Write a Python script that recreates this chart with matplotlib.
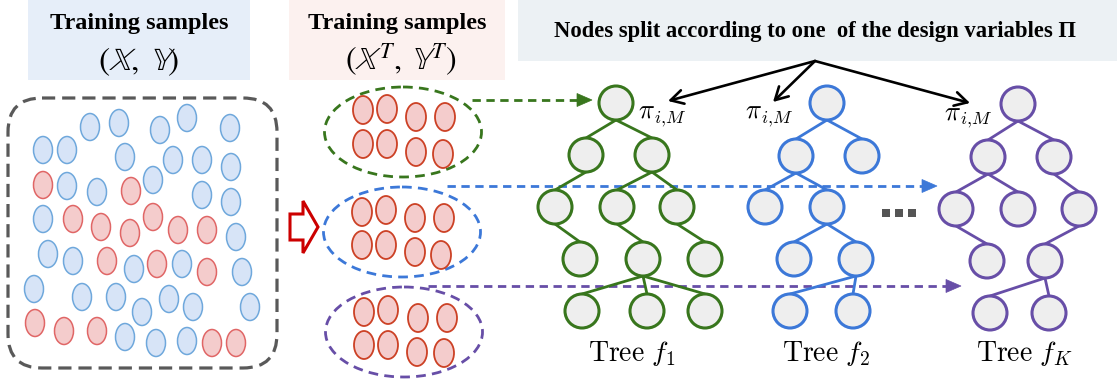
import matplotlib
matplotlib.use('Agg')
import matplotlib.pyplot as plt
from matplotlib.patches import Ellipse, Circle, Rectangle, FancyBboxPatch, Polygon, FancyArrowPatch

plt.rcParams['lines.scale_dashes'] = False

# ---------------- data ----------------
header_left = "Training samples"
header_left_math = r"$(\mathbb{X},\ \mathbb{Y})$"
header_mid = "Training samples"
header_mid_math = r"$\left(\mathbb{X}^{\,T},\ \mathbb{Y}^{\,T}\right)$"
header_right = "Nodes split according to one  of the design variables \u03a0"
split_symbol = r"$\pi$"
split_sub = r"$i{,}M$"
tree_labels = [r"$\mathrm{Tree}\ f_1$", r"$\mathrm{Tree}\ f_2$", r"$\mathrm{Tree}\ f_K$"]

# training samples (x, y, class) ; B = blue, R = red
sample_x = [90, 119, 160, 187, 230,
            43, 67, 125, 173, 202, 231,
            43, 67, 97, 131, 153, 202, 231,
            43, 73, 101, 130, 153, 178, 207, 236,
            48, 73, 107, 134, 157, 182, 207, 242,
            34, 82, 116, 142, 169, 193, 250,
            35, 64, 97, 125, 156, 187, 212, 236]
sample_y = [127, 123, 130, 118, 128,
            150, 150, 157, 160, 160, 167,
            185, 186, 192, 191, 180, 195, 202,
            219, 219, 227, 233, 217, 230, 230, 237,
            254, 261, 261, 269, 264, 264, 272, 272,
            289, 297, 297, 312, 299, 307, 307,
            323, 331, 331, 337, 343, 341, 343, 343]
sample_cls = list("BBBBB" "BBBBBB" "RBBRBBB" "BRRRRRRB" "BBRBRBRB" "BBBBBBB" "RRRBBBRR")

# bootstrap subsets: centers of dashed group ellipses and their members
group_colors = ["#38761d", "#3c78d8", "#674ea7"]
group_centers = [(403, 132), (402, 232), (404, 332)]
group_members_x = [[363, 387, 416, 445, 363, 387, 416, 443],
                   [362, 386, 415, 444, 362, 386, 415, 441],
                   [364, 388, 418, 447, 364, 388, 417, 444]]
group_members_y = [[110, 109, 117, 117, 144, 144, 152, 154],
                   [212, 210, 218, 218, 245, 245, 252, 255],
                   [312, 310, 318, 318, 345, 345, 352, 353]]

# trees: node centers and edges
tree_nodes = [
    [(616, 103), (586, 155), (652, 155), (555, 207), (617, 207), (677, 207),
     (580, 259), (643, 259), (705, 259), (582, 311), (647, 311), (705, 311)],
    [(827, 103), (796, 156), (862, 156), (765, 207), (827, 207),
     (794, 259), (856, 259), (790, 311), (853, 311)],
    [(1018, 104), (988, 157), (1054, 157), (956, 209), (1018, 209), (1079, 209),
     (987, 261), (1045, 261), (990, 313), (1049, 313)],
]
tree_edges = [
    [(0, 1), (0, 2), (1, 3), (2, 4), (2, 5), (3, 6), (4, 7), (5, 8), (7, 9), (7, 10), (7, 11)],
    [(0, 1), (0, 2), (1, 3), (1, 4), (4, 5), (4, 6), (6, 7), (6, 8)],
    [(0, 1), (0, 2), (1, 3), (1, 4), (2, 5), (3, 6), (5, 7), (7, 8), (7, 9)],
]
tree_label_pos = [(632, 361), (826, 361), (1024, 361)]

# dashed connectors (start, tip)
conn_start = [(472, 100), (447, 186), (428, 286)]
conn_tip = [(592, 100), (937, 186), (961, 286)]

# split arrows
split_origin = (815, 61)
split_tips = [(668, 101), (773, 102), (970, 103)]
split_label_pos = [(638, 118), (745, 118), (944, 119)]

# ---------------- figure ----------------
W, H = 1117, 382
fig = plt.figure(figsize=(W / 100, H / 100), dpi=100)
ax = fig.add_axes([0, 0, 1, 1])
ax.set_xlim(0, W)
ax.set_ylim(H, 0)
ax.axis('off')

serif = ['Liberation Serif', 'DejaVu Serif']

# header boxes
ax.add_patch(Rectangle((28, 0), 222, 80, facecolor='#e6eef9', edgecolor='none', zorder=0))
ax.add_patch(Rectangle((289, 0), 216, 80, facecolor='#fcf1ef', edgecolor='none', zorder=0))
ax.add_patch(Rectangle((518, 0), 599, 61, facecolor='#ecf1f4', edgecolor='none', zorder=0))

ax.text(139, 23, header_left, ha='center', va='center', fontsize=17.5,
        fontweight='bold', family=serif)
ax.text(138, 61, header_left_math, ha='center', va='center', fontsize=24,
        math_fontfamily='stix')
ax.text(397, 23, header_mid, ha='center', va='center', fontsize=17.5,
        fontweight='bold', family=serif)
ax.text(401, 60, header_mid_math, ha='center', va='center', fontsize=23,
        math_fontfamily='stix')
ax.text(815, 32, header_right, ha='center', va='center', fontsize=16.3,
        fontweight='bold', family=serif)

# big dashed rounded box
ax.add_patch(FancyBboxPatch((8, 98), 269, 270, boxstyle='round,pad=0,rounding_size=34',
                            facecolor='none', edgecolor='#595959', lw=2.3,
                            linestyle=(0, (9.5, 5)), zorder=1))

# samples
for x, y, c in zip(sample_x, sample_y, sample_cls):
    if c == 'B':
        fc, ec = '#d7e4f7', '#6fa8dc'
    else:
        fc, ec = '#f4cccc', '#e06666'
    ax.add_patch(Ellipse((x, y), 19, 27, facecolor=fc, edgecolor=ec, lw=1.1, zorder=2))

# red hollow arrow
ax.add_patch(Polygon([(290, 214), (303, 214), (303, 201), (318, 227), (303, 253),
                      (303, 240), (290, 240)], closed=True, facecolor='white',
                     edgecolor='#cc0000', lw=2.2, joinstyle='miter', zorder=2))

# groups
for col, (cx, cy), gx, gy in zip(group_colors, group_centers, group_members_x, group_members_y):
    ax.add_patch(Ellipse((cx, cy), 157, 90, facecolor='none', edgecolor=col, lw=2.0,
                         linestyle=(0, (7, 4.5)), zorder=2))
    for x, y in zip(gx, gy):
        ax.add_patch(Ellipse((x, y), 20, 28, facecolor='#f4cccc', edgecolor='#cc4125',
                             lw=1.3, zorder=3))

# dashed connectors with arrowheads
for col, (sx, sy), (tx, ty) in zip(group_colors, conn_start, conn_tip):
    hl = 15
    ax.plot([sx, tx - hl], [sy, ty], color=col, lw=2.0, linestyle=(0, (6, 4)),
            solid_capstyle='butt', zorder=1.5)
    ax.add_patch(Polygon([(tx - hl, ty - 6.5), (tx, ty), (tx - hl, ty + 6.5)], closed=True,
                         facecolor=col, edgecolor=col, lw=0.5, zorder=1.6))

# trees
R = 17
for col, nodes, edges in zip(group_colors, tree_nodes, tree_edges):
    for a, b in edges:
        (x0, y0), (x1, y1) = nodes[a], nodes[b]
        ax.plot([x0, x1], [y0 + R, y1 - R], color=col, lw=2.0, zorder=3,
                solid_capstyle='round')
    for (x, y) in nodes:
        ax.add_patch(Circle((x, y), R, facecolor='#eeeeee', edgecolor=col, lw=2.2, zorder=4))

for lab, (x, y) in zip(tree_labels, tree_label_pos):
    ax.text(x, y, lab, ha='center', va='baseline', fontsize=20, math_fontfamily='cm')

# ellipsis dots
for x in (886, 899, 912):
    ax.add_patch(Rectangle((x - 4, 209), 8, 8, facecolor='#555555', edgecolor='none', zorder=3))

# split arrows and labels
for tip in split_tips:
    ax.add_patch(FancyArrowPatch(split_origin, tip, arrowstyle='->,head_length=0.45,head_width=0.25',
                                 mutation_scale=20, color='black', lw=1.9,
                                 shrinkA=0, shrinkB=0, zorder=5))
for (x, y) in split_label_pos:
    ax.text(x, y, split_symbol, ha='left', va='baseline', fontsize=19, math_fontfamily='cm',
            zorder=6)
    ax.text(x + 16, y + 5, split_sub, ha='left', va='baseline', fontsize=13,
            math_fontfamily='cm', zorder=6)

fig.savefig('out.png', dpi=100)
